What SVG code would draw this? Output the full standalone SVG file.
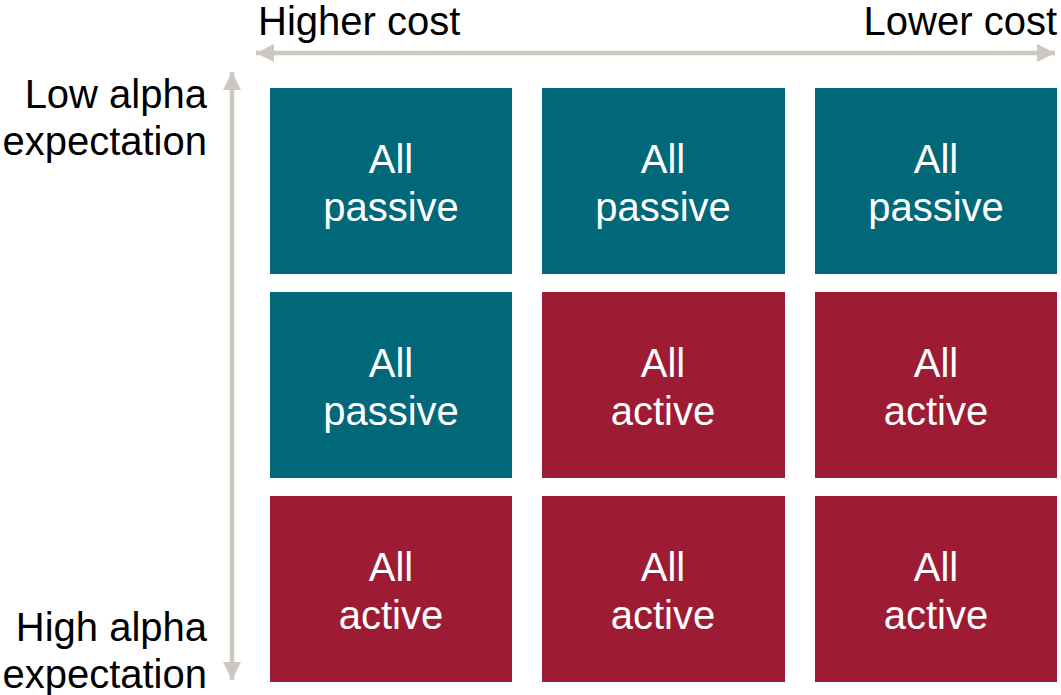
<svg xmlns="http://www.w3.org/2000/svg" width="1061" height="695" viewBox="0 0 1061 695">
<style>
text{font-family:"Liberation Sans",Arial,sans-serif;font-size:40px}
.lbl{fill:#000}
.cell text{fill:#fff;text-anchor:middle}
.p rect{fill:#006878}
.a rect{fill:#9E1B34}
.ax{stroke:#CCC8BF;stroke-width:4.5;fill:none}
</style>
<defs>
<marker id="ah" viewBox="0 0 10 10" refX="10" refY="5" markerWidth="4" markerHeight="4" orient="auto-start-reverse" markerUnits="strokeWidth"><path d="M0,0 L10,5 L0,10 z" fill="#CCC8BF"/></marker>
</defs>
<rect width="1061" height="695" fill="#fff"/>
<g id="connectors">
<line class="ax" x1="256" y1="53" x2="1055" y2="53" marker-start="url(#ah)" marker-end="url(#ah)"/>
<line class="ax" x1="232" y1="72" x2="232" y2="680" marker-start="url(#ah)" marker-end="url(#ah)"/>
</g>
<g id="labels" class="lbl">
<text x="258" y="35">Higher cost</text>
<text x="1057" y="35" text-anchor="end">Lower cost</text>
<text x="207" y="108" text-anchor="end">Low alpha</text>
<text x="207" y="155" text-anchor="end">expectation</text>
<text x="207" y="641" text-anchor="end">High alpha</text>
<text x="207" y="688" text-anchor="end">expectation</text>
</g>
<g id="c11" class="cell p"><rect x="270" y="88" width="242" height="186"/><text x="391" y="173">All</text><text x="391" y="221">passive</text></g>
<g id="c12" class="cell p"><rect x="542" y="88" width="243" height="186"/><text x="663" y="173">All</text><text x="663" y="221">passive</text></g>
<g id="c13" class="cell p"><rect x="815" y="88" width="242" height="186"/><text x="936" y="173">All</text><text x="936" y="221">passive</text></g>
<g id="c21" class="cell p"><rect x="270" y="292" width="242" height="186"/><text x="391" y="377">All</text><text x="391" y="425">passive</text></g>
<g id="c22" class="cell a"><rect x="542" y="292" width="243" height="186"/><text x="663" y="377">All</text><text x="663" y="425">active</text></g>
<g id="c23" class="cell a"><rect x="815" y="292" width="242" height="186"/><text x="936" y="377">All</text><text x="936" y="425">active</text></g>
<g id="c31" class="cell a"><rect x="270" y="496" width="242" height="186"/><text x="391" y="581">All</text><text x="391" y="629">active</text></g>
<g id="c32" class="cell a"><rect x="542" y="496" width="243" height="186"/><text x="663" y="581">All</text><text x="663" y="629">active</text></g>
<g id="c33" class="cell a"><rect x="815" y="496" width="242" height="186"/><text x="936" y="581">All</text><text x="936" y="629">active</text></g>
</svg>
